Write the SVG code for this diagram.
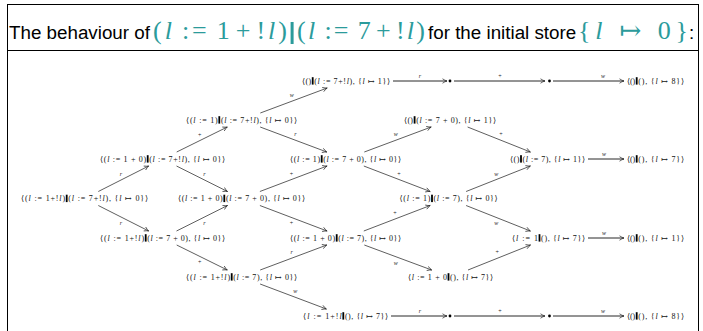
<svg xmlns="http://www.w3.org/2000/svg" width="703" height="331" viewBox="0 0 703 331">
<defs>
<style>
.t{font-family:"Liberation Sans",Arial,sans-serif;font-size:18.8px;fill:#000}
.m{font-family:"Liberation Serif","DejaVu Serif",serif;font-size:26px;fill:#2b9b9b}
.n{font-family:"Liberation Serif","DejaVu Serif",serif;font-size:8px;fill:#111}
.i{font-style:italic}
.lb{font-family:"Liberation Serif","DejaVu Serif",serif;font-size:6px;fill:#222;text-anchor:middle}
.bar{fill:#000}
.ar{fill:none;stroke:#2a2a2a;stroke-width:0.75;marker-end:url(#ah)}
.hr{fill:none;stroke:#111;stroke-width:0.9;marker-end:url(#ah)}
</style>
<marker id="ah" markerUnits="userSpaceOnUse" viewBox="-5 -4 6 8" markerWidth="6" markerHeight="8" refX="0" refY="0" orient="auto">
<path d="M-4.5,-2.2 Q-2,-0.5 0,0 Q-2,0.5 -4.5,2.2" fill="none" stroke="#222" stroke-width="0.7"/>
</marker>
</defs>
<rect x="7.5" y="4.5" width="691" height="340" fill="#fff" stroke="#000" stroke-width="1"/>
<line x1="7.5" y1="50.5" x2="698.5" y2="50.5" stroke="#000" stroke-width="1"/>
<g id="title">
<text class="t" x="9" y="38.5">The behaviour of</text>
<text class="m" x="153" y="39" textLength="134" lengthAdjust="spacing">(<tspan class="i">l</tspan><tspan dx="7">:=</tspan><tspan dx="7">1</tspan><tspan dx="3">+</tspan><tspan dx="3">!</tspan><tspan class="i">l</tspan>)</text>
<rect x="290.6" y="22" width="3" height="22" fill="#2b9b9b"/>
<text class="m" x="297" y="39" textLength="128" lengthAdjust="spacing">(<tspan class="i">l</tspan><tspan dx="7">:=</tspan><tspan dx="7">7</tspan><tspan dx="3">+</tspan><tspan dx="3">!</tspan><tspan class="i">l</tspan>)</text>
<text class="t" x="428" y="38.5">for the initial store</text>
<text class="m" x="578" y="39" textLength="110" lengthAdjust="spacing">{<tspan class="i">l</tspan><tspan dx="12">↦</tspan><tspan dx="12">0</tspan>}</text>
<text class="t" x="689" y="38.5">:</text>
</g>
<g id="connectors">
<path class="ar" d="M98.3,191.5L148.7,166"/>
<path class="ar" d="M98.3,205.5L148.7,231"/>
<path class="ar" d="M176.7,152L227.3,127"/>
<path class="ar" d="M176.5,166L227.5,191.5"/>
<path class="ar" d="M176.5,231L227.5,205.5"/>
<path class="ar" d="M176.7,245L227.3,270"/>
<path class="ar" d="M260.3,113L327.2,88"/>
<path class="ar" d="M260.2,127L326.8,152"/>
<path class="ar" d="M259.9,191.5L327.1,166"/>
<path class="ar" d="M259.9,205.5L327.1,231"/>
<path class="ar" d="M260.2,270L326.8,245"/>
<path class="ar" d="M260.1,284L326.4,309"/>
<path class="ar" d="M364.3,152L431.2,127"/>
<path class="ar" d="M363.8,166L430.2,191.5"/>
<path class="ar" d="M363.8,231L430.2,205.5"/>
<path class="ar" d="M364.3,245L431.7,270"/>
<path class="ar" d="M467.6,127L530.4,152"/>
<path class="ar" d="M466.1,191.5L530.4,166"/>
<path class="ar" d="M466.1,205.5L530.4,231"/>
<path class="ar" d="M468,270L530.5,245"/>
<path class="hr" d="M393,81H447"/>
<path class="hr" d="M454,81H545"/>
<path class="hr" d="M553,81H624"/>
<path class="hr" d="M588,159H624"/>
<path class="hr" d="M588,238H624"/>
<path class="hr" d="M391,316H447"/>
<path class="hr" d="M454,316H545"/>
<path class="hr" d="M553,316H624"/>
<circle cx="450" cy="81" r="1.4" fill="#000"/>
<circle cx="549.5" cy="81" r="1.4" fill="#000"/>
<circle cx="450" cy="316" r="1.4" fill="#000"/>
<circle cx="549.5" cy="316" r="1.4" fill="#000"/>
<text class="lb i" x="121" y="175.8">r</text>
<text class="lb i" x="121" y="225.2">r</text>
<text class="lb" x="199.6" y="136.6">+</text>
<text class="lb i" x="204.5" y="175.8">r</text>
<text class="lb i" x="204.5" y="225.2">r</text>
<text class="lb" x="199.6" y="264.4">+</text>
<text class="lb i" x="291.8" y="97.3">w</text>
<text class="lb i" x="295.4" y="136.4">r</text>
<text class="lb" x="291.5" y="175.6">+</text>
<text class="lb" x="291.5" y="225.4">+</text>
<text class="lb i" x="291.6" y="254.4">r</text>
<text class="lb i" x="295.2" y="293.4">w</text>
<text class="lb i" x="395.8" y="136.3">w</text>
<text class="lb" x="399" y="175.6">+</text>
<text class="lb" x="395" y="215.1">+</text>
<text class="lb i" x="395.8" y="264.7">w</text>
<text class="lb" x="501" y="136.4">+</text>
<text class="lb i" x="496.2" y="175.6">w</text>
<text class="lb i" x="496.2" y="225.4">w</text>
<text class="lb" x="497.2" y="254.4">+</text>
<text class="lb i" x="420" y="78">r</text>
<text class="lb" x="500" y="78">+</text>
<text class="lb i" x="603" y="78">w</text>
<text class="lb i" x="604" y="156">w</text>
<text class="lb i" x="604" y="235">w</text>
<text class="lb i" x="420" y="313">r</text>
<text class="lb" x="500" y="313">+</text>
<text class="lb i" x="603" y="313">w</text>
</g>
<g id="nA"><text class="n" x="21" y="201.3" textLength="44.1" lengthAdjust="spacing">⟨(<tspan class="i">l</tspan> := 1+!<tspan class="i">l</tspan>)</text><rect class="bar" x="65.8" y="194.7" width="1.8" height="7.4"/><text class="n" x="68.3" y="201.3" textLength="79.7" lengthAdjust="spacing">(<tspan class="i">l</tspan> := 7+!<tspan class="i">l</tspan>), {<tspan class="i">l</tspan> ↦ 0}⟩</text></g>
<g id="nB1"><text class="n" x="100" y="161.8" textLength="46.1" lengthAdjust="spacing">⟨(<tspan class="i">l</tspan> := 1 + 0)</text><rect class="bar" x="146.8" y="155.2" width="1.8" height="7.4"/><text class="n" x="149.3" y="161.8" textLength="75.7" lengthAdjust="spacing">(<tspan class="i">l</tspan> := 7+!<tspan class="i">l</tspan>), {<tspan class="i">l</tspan> ↦ 0}⟩</text></g>
<g id="nB2"><text class="n" x="100" y="240.8" textLength="44.1" lengthAdjust="spacing">⟨(<tspan class="i">l</tspan> := 1+!<tspan class="i">l</tspan>)</text><rect class="bar" x="144.8" y="234.2" width="1.8" height="7.4"/><text class="n" x="147.3" y="240.8" textLength="77.7" lengthAdjust="spacing">(<tspan class="i">l</tspan> := 7 + 0), {<tspan class="i">l</tspan> ↦ 0}⟩</text></g>
<g id="nC1"><text class="n" x="186" y="122.8" textLength="31.7" lengthAdjust="spacing">⟨(<tspan class="i">l</tspan> := 1)</text><rect class="bar" x="218.4" y="116.2" width="1.8" height="7.4"/><text class="n" x="220.9" y="122.8" textLength="76.1" lengthAdjust="spacing">(<tspan class="i">l</tspan> := 7+!<tspan class="i">l</tspan>), {<tspan class="i">l</tspan> ↦ 0}⟩</text></g>
<g id="nC2"><text class="n" x="178" y="201.3" textLength="44.7" lengthAdjust="spacing">⟨(<tspan class="i">l</tspan> := 1 + 0)</text><rect class="bar" x="223.4" y="194.7" width="1.8" height="7.4"/><text class="n" x="225.9" y="201.3" textLength="79.1" lengthAdjust="spacing">(<tspan class="i">l</tspan> := 7 + 0), {<tspan class="i">l</tspan> ↦ 0}⟩</text></g>
<g id="nC3"><text class="n" x="186" y="279.8" textLength="44.1" lengthAdjust="spacing">⟨(<tspan class="i">l</tspan> := 1+!<tspan class="i">l</tspan>)</text><rect class="bar" x="230.8" y="273.2" width="1.8" height="7.4"/><text class="n" x="233.3" y="279.8" textLength="63.7" lengthAdjust="spacing">(<tspan class="i">l</tspan> := 7), {<tspan class="i">l</tspan> ↦ 0}⟩</text></g>
<g id="nD1"><text class="n" x="302" y="83.8" textLength="9.1" lengthAdjust="spacing">⟨()</text><rect class="bar" x="311.8" y="77.2" width="1.8" height="7.4"/><text class="n" x="314.3" y="83.8" textLength="75.7" lengthAdjust="spacing">(<tspan class="i">l</tspan> := 7+!<tspan class="i">l</tspan>), {<tspan class="i">l</tspan> ↦ 1}⟩</text></g>
<g id="nD2"><text class="n" x="290" y="161.8" textLength="30.1" lengthAdjust="spacing">⟨(<tspan class="i">l</tspan> := 1)</text><rect class="bar" x="320.8" y="155.2" width="1.8" height="7.4"/><text class="n" x="323.3" y="161.8" textLength="77.7" lengthAdjust="spacing">(<tspan class="i">l</tspan> := 7 + 0), {<tspan class="i">l</tspan> ↦ 0}⟩</text></g>
<g id="nD3"><text class="n" x="290" y="240.8" textLength="45.1" lengthAdjust="spacing">⟨(<tspan class="i">l</tspan> := 1 + 0)</text><rect class="bar" x="335.8" y="234.2" width="1.8" height="7.4"/><text class="n" x="338.3" y="240.8" textLength="62.7" lengthAdjust="spacing">(<tspan class="i">l</tspan> := 7), {<tspan class="i">l</tspan> ↦ 0}⟩</text></g>
<g id="nD4"><text class="n" x="303" y="318.8" textLength="38.7" lengthAdjust="spacing">⟨<tspan class="i">l</tspan> := 1+!<tspan class="i">l</tspan></text><rect class="bar" x="342.4" y="312.2" width="1.8" height="7.4"/><text class="n" x="344.9" y="318.8" textLength="43.1" lengthAdjust="spacing">(), {<tspan class="i">l</tspan> ↦ 7}⟩</text></g>
<g id="nE1"><text class="n" x="404" y="122.8" textLength="9" lengthAdjust="spacing">⟨()</text><rect class="bar" x="413.7" y="116.2" width="1.8" height="7.4"/><text class="n" x="416.2" y="122.8" textLength="79.8" lengthAdjust="spacing">(<tspan class="i">l</tspan> := 7 + 0), {<tspan class="i">l</tspan> ↦ 1}⟩</text></g>
<g id="nE2"><text class="n" x="399.5" y="201.3" textLength="30.9" lengthAdjust="spacing">⟨(<tspan class="i">l</tspan> := 1)</text><rect class="bar" x="431.1" y="194.7" width="1.8" height="7.4"/><text class="n" x="433.6" y="201.3" textLength="63.9" lengthAdjust="spacing">(<tspan class="i">l</tspan> := 7), {<tspan class="i">l</tspan> ↦ 0}⟩</text></g>
<g id="nE3"><text class="n" x="408" y="279.8" textLength="38.9" lengthAdjust="spacing">⟨<tspan class="i">l</tspan> := 1 + 0</text><rect class="bar" x="447.6" y="273.2" width="1.8" height="7.4"/><text class="n" x="450.1" y="279.8" textLength="42.9" lengthAdjust="spacing">(), {<tspan class="i">l</tspan> ↦ 7}⟩</text></g>
<g id="nF1"><text class="n" x="510" y="161.8" textLength="9.4" lengthAdjust="spacing">⟨()</text><rect class="bar" x="520.1" y="155.2" width="1.8" height="7.4"/><text class="n" x="522.6" y="161.8" textLength="62.4" lengthAdjust="spacing">(<tspan class="i">l</tspan> := 7), {<tspan class="i">l</tspan> ↦ 1}⟩</text></g>
<g id="nF2"><text class="n" x="512" y="240.8" textLength="25.9" lengthAdjust="spacing">⟨<tspan class="i">l</tspan> := 1</text><rect class="bar" x="538.6" y="234.2" width="1.8" height="7.4"/><text class="n" x="541.1" y="240.8" textLength="43.9" lengthAdjust="spacing">(), {<tspan class="i">l</tspan> ↦ 7}⟩</text></g>
<g id="nG1"><text class="n" x="627" y="83.8" textLength="8.1" lengthAdjust="spacing">⟨()</text><rect class="bar" x="635.8" y="77.2" width="1.8" height="7.4"/><text class="n" x="638.3" y="83.8" textLength="45.7" lengthAdjust="spacing">(), {<tspan class="i">l</tspan> ↦ 8}⟩</text></g>
<g id="nG2"><text class="n" x="627" y="161.8" textLength="8.1" lengthAdjust="spacing">⟨()</text><rect class="bar" x="635.8" y="155.2" width="1.8" height="7.4"/><text class="n" x="638.3" y="161.8" textLength="45.7" lengthAdjust="spacing">(), {<tspan class="i">l</tspan> ↦ 7}⟩</text></g>
<g id="nG3"><text class="n" x="627" y="240.8" textLength="8.1" lengthAdjust="spacing">⟨()</text><rect class="bar" x="635.8" y="234.2" width="1.8" height="7.4"/><text class="n" x="638.3" y="240.8" textLength="45.7" lengthAdjust="spacing">(), {<tspan class="i">l</tspan> ↦ 1}⟩</text></g>
<g id="nG4"><text class="n" x="627" y="318.8" textLength="8.1" lengthAdjust="spacing">⟨()</text><rect class="bar" x="635.8" y="312.2" width="1.8" height="7.4"/><text class="n" x="638.3" y="318.8" textLength="45.7" lengthAdjust="spacing">(), {<tspan class="i">l</tspan> ↦ 8}⟩</text></g>
</svg>
